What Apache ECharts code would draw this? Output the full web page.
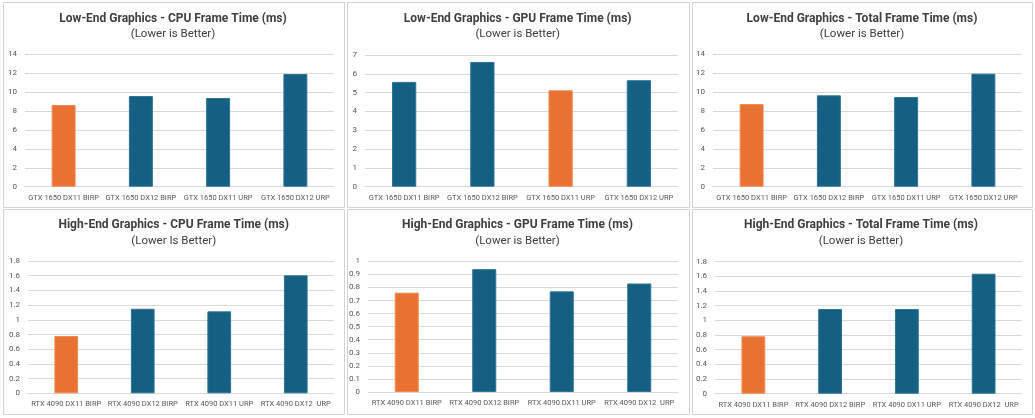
<!DOCTYPE html>
<html>
<head>
<meta charset="utf-8">
<script src="https://cdn.jsdelivr.net/npm/echarts@6/dist/echarts.min.js"></script>
<style>
html,body{margin:0;padding:0;background:#fff;}
#c{width:1035px;height:418px;}
</style>
</head>
<body>
<div id="c"></div>
<script>
const lowCategories = ['GTX 1650 DX11 BIRP', 'GTX 1650 DX12 BIRP', 'GTX 1650 DX11 URP', 'GTX 1650 DX12 URP'];
const highCategories = ['RTX 4090 DX11 BIRP', 'RTX 4090 DX12 BIRP', 'RTX 4090 DX11 URP', 'RTX 4090 DX12  URP'];

const lowCpu = [8.64, 9.59, 9.38, 11.92];
const lowGpu = [5.57, 6.63, 5.12, 5.66];
const lowTotal = [8.74, 9.66, 9.48, 11.95];
const highCpu = [0.78, 1.15, 1.115, 1.605];
const highGpu = [0.76, 0.94, 0.77, 0.83];
const highTotal = [0.783, 1.155, 1.155, 1.636];

const titles = [
  'Low-End Graphics - CPU Frame Time (ms)',
  'Low-End Graphics - GPU Frame Time (ms)',
  'Low-End Graphics - Total Frame Time (ms)',
  'High-End Graphics - CPU Frame Time (ms)',
  'High-End Graphics - GPU Frame Time (ms)',
  'High-End Graphics - Total Frame Time (ms)'
];
const subtitles = ['(Lower is Better)', '(Lower is Better)', '(Lower is Better)', '(Lower Is Better)', '(Lower is Better)', '(Lower is Better)'];
const highlightIndex = [0, 2, 0, 0, 0, 0];
const yMax = [14, 7, 14, 1.8, 1, 1.8];
const yStep = [2, 1, 2, 0.2, 0.1, 0.2];

const seriesData = [lowCpu, lowGpu, lowTotal, highCpu, highGpu, highTotal];
const catData = [lowCategories, lowCategories, lowCategories, highCategories, highCategories, highCategories];

// layout (pixels)
const W = 1035, H = 418;
const panels = [
  {x:3, y:2, w:341, h:205}, {x:347, y:2, w:342, h:205}, {x:692, y:2, w:340, h:205},
  {x:3, y:209, w:341, h:205}, {x:347, y:209, w:342, h:205}, {x:692, y:209, w:340, h:205}
];
const grids = [
  {l:25, r:334, t:54.3, b:186.7}, {l:365, r:678, t:55, b:186.7}, {l:713, r:1022, t:54.3, b:186.7},
  {l:28, r:334, t:261, b:393.3}, {l:368, r:678, t:261.3, b:392}, {l:715, r:1022, t:261.7, b:393.7}
];
const titlePos = [
  {x:173, y:19, sy:34.3}, {x:517.7, y:19, sy:34.3}, {x:862, y:19, sy:34.3},
  {x:173.7, y:225, sy:241}, {x:517.5, y:225, sy:241}, {x:861, y:225, sy:241}
];

const ORANGE = '#E97132';
const BLUE = '#156082';
const FONT = 'Roboto, "Liberation Sans", sans-serif';

const option = {
  backgroundColor: '#ffffff',
  animation: false,
  title: [],
  grid: [],
  xAxis: [],
  yAxis: [],
  series: [],
  graphic: []
};

panels.forEach((p, i) => {
  option.graphic.push({
    type: 'rect', silent: true, z: -10,
    shape: {x: p.x + 0.5, y: p.y + 0.5, width: p.w, height: p.h},
    style: {fill: '#ffffff', stroke: '#d4d4d4', lineWidth: 1}
  });
  const g = grids[i];
  option.grid.push({left: g.l, top: g.t, width: g.r - g.l, height: g.b - g.t, containLabel: false});
  option.xAxis.push({
    type: 'category', gridIndex: i, data: catData[i],
    axisTick: {show: false},
    axisLine: {lineStyle: {color: '#d9d9d9', width: 1}},
    axisLabel: {color: '#595959', fontFamily: FONT, fontSize: 7.5, margin: 7, interval: 0}
  });
  option.yAxis.push({
    type: 'value', gridIndex: i, min: 0, max: yMax[i], interval: yStep[i],
    axisLine: {show: false}, axisTick: {show: false},
    splitLine: {lineStyle: {color: '#d9d9d9', width: 1}},
    axisLabel: {color: '#595959', fontFamily: FONT, fontSize: 8, margin: 8}
  });
  option.series.push({
    type: 'bar', xAxisIndex: i, yAxisIndex: i, barWidth: '31%',
    data: seriesData[i].map((v, k) => ({
      value: v,
      itemStyle: k === highlightIndex[i]
        ? {color: ORANGE, borderColor: '#F08A50', borderWidth: 1}
        : {color: BLUE, borderColor: '#2C7498', borderWidth: 1}
    }))
  });
  const t = titlePos[i];
  option.graphic.push({
    type: 'text', silent: true, x: t.x, y: t.y,
    style: {text: titles[i], fill: '#404040', font: 'bold 12px ' + FONT, align: 'center', verticalAlign: 'middle'}
  });
  option.graphic.push({
    type: 'text', silent: true, x: t.x, y: t.sy,
    style: {text: subtitles[i], fill: '#404040', font: '11.5px ' + FONT, align: 'center', verticalAlign: 'middle'}
  });
});

const chart = echarts.init(document.getElementById('c'), null, {renderer: 'canvas', width: W, height: H});
chart.setOption(option);
</script>
</body>
</html>
